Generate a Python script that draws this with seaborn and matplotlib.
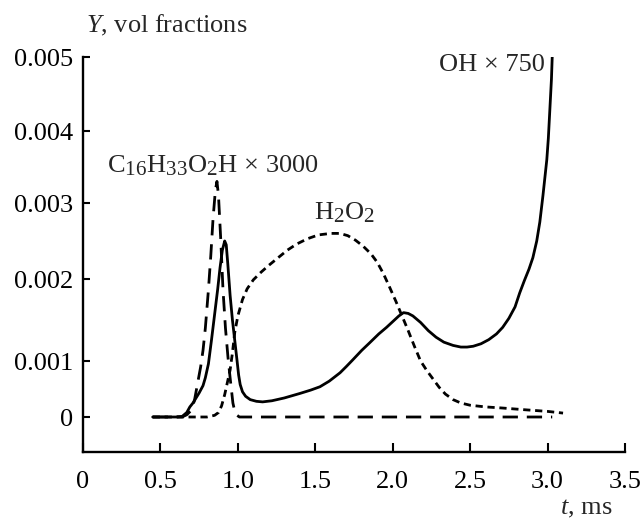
import numpy as np
import pandas as pd
import matplotlib
matplotlib.use("Agg")
import matplotlib.pyplot as plt
import seaborn as sns

# ---- data ----
t_oh = [0.45, 0.60, 0.64, 0.67, 0.69, 0.71, 0.73, 0.75, 0.775, 0.79, 0.81, 0.83,
        0.85, 0.87, 0.885, 0.90, 0.915, 0.925, 0.935, 0.95, 0.965, 0.98, 0.995,
        1.005, 1.015, 1.03, 1.05, 1.08, 1.12, 1.16, 1.22, 1.30, 1.40, 1.47, 1.53,
        1.59, 1.66, 1.70, 1.74, 1.80, 1.85, 1.91, 1.96, 2.00, 2.04, 2.07, 2.10,
        2.13, 2.18, 2.23, 2.28, 2.33, 2.39, 2.44, 2.48, 2.52, 2.57, 2.62, 2.67,
        2.71, 2.75, 2.79, 2.82, 2.85, 2.88, 2.905, 2.93, 2.95, 2.97, 2.985, 2.995,
        3.005, 3.015, 3.025, 3.03]
y_oh = [0.0, 0.0, 0.00001, 0.00008, 0.00018, 0.00025, 0.00034, 0.00043, 0.00056,
        0.0007, 0.00095, 0.00126, 0.00157, 0.00188, 0.00215, 0.00238, 0.0025,
        0.00245, 0.0022, 0.0018, 0.0015, 0.00125, 0.001, 0.00075, 0.00058, 0.00045,
        0.00037, 0.00031, 0.00028, 0.00027, 0.00029, 0.00034, 0.00042, 0.00048,
        0.00054, 0.00064, 0.00079, 0.0009, 0.00101, 0.00113, 0.00122, 0.00133,
        0.00141, 0.00148, 0.00155, 0.00159, 0.00158, 0.00155, 0.00147, 0.00137,
        0.00129, 0.00123, 0.00119, 0.00117, 0.00117, 0.00118, 0.00121, 0.00126,
        0.00133, 0.00141, 0.00152, 0.00166, 0.00183, 0.00198, 0.00213, 0.00228,
        0.0025, 0.00275, 0.0031, 0.0034, 0.0036, 0.0039, 0.0043, 0.0047, 0.005]

t_h2o2 = [0.45, 0.80, 0.85, 0.875, 0.895, 0.915, 0.935, 0.95, 0.965, 0.98, 1.00,
          1.03, 1.06, 1.10, 1.15, 1.20, 1.26, 1.32, 1.38, 1.45, 1.52, 1.60, 1.66,
          1.71, 1.76, 1.81, 1.86, 1.90, 1.94, 1.98, 2.02, 2.06, 2.10, 2.14, 2.18,
          2.22, 2.26, 2.30, 2.34, 2.39, 2.44, 2.50, 2.60, 2.71, 2.85, 3.00, 3.10]
y_h2o2 = [0.0, 0.0, 0.00003, 0.00008, 0.0002, 0.0004, 0.00065, 0.00084, 0.0011,
          0.00135, 0.00155, 0.00175, 0.00188, 0.00199, 0.00209, 0.00218, 0.00228,
          0.00238, 0.00246, 0.00253, 0.00258, 0.0026, 0.0026, 0.00257, 0.00251,
          0.00243, 0.00233, 0.00222, 0.00207, 0.0019, 0.00173, 0.00155, 0.00137,
          0.00118, 0.001, 0.00083, 0.00068, 0.00053, 0.00041, 0.00031, 0.00025,
          0.00021, 0.00018, 0.00016, 0.00013, 0.0001, 0.00007]

t_c16 = [0.45, 0.64, 0.67, 0.70, 0.72, 0.74, 0.76, 0.775, 0.79, 0.81, 0.825, 0.84,
         0.855, 0.865, 0.875, 0.89, 0.904, 0.92, 0.936, 0.95, 0.968, 0.98, 0.99,
         1.01, 3.03]
y_c16 = [0.0, 0.0, 0.00004, 0.00012, 0.0003, 0.0006, 0.0009, 0.00113, 0.0014,
         0.00187, 0.0023, 0.0028, 0.00318, 0.0033, 0.0031, 0.0025, 0.00187, 0.0014,
         0.00105, 0.0007, 0.00025, 0.0001, 0.00004, 0.0, 0.0]

x_ticks = [0, 0.5, 1.0, 1.5, 2.0, 2.5, 3.0, 3.5]
x_labels = ["0", "0.5", "1.0", "1.5", "2.0", "2.5", "3.0", "3.5"]
y_ticks = [0, 0.001, 0.002, 0.003, 0.004, 0.005]
y_labels = ["0", "0.001", "0.002", "0.003", "0.004", "0.005"]

# ---- style ----
sns.set_style("ticks")
plt.rcParams["font.family"] = ["Liberation Serif", "DejaVu Serif"]
plt.rcParams["mathtext.fontset"] = "custom"
plt.rcParams["mathtext.rm"] = "Liberation Serif"
plt.rcParams["mathtext.it"] = "Liberation Serif:italic"
try:
    import matplotlib._mathtext as _mt
    _mt.SHRINK_FACTOR = 0.8
except Exception:
    pass
FS = 19

fig = plt.figure(figsize=(6.44, 5.21), dpi=100)
ax = fig.add_axes([83 / 644, 69 / 521, (625 - 83) / 644, (452 - 57) / 521])

# piecewise-linear y scale reproducing the uneven tick spacing of the original
_sv = np.array([-0.001, 0.0, 0.001, 0.002, 0.003, 0.004, 0.005, 0.006])
_sp = np.array([-56.0, 0.0, 56.0, 138.0, 214.0, 286.0, 360.0, 434.0])
def _fwd(v):
    return np.interp(v, _sv, _sp)
def _inv(u):
    return np.interp(u, _sp, _sv)
ax.set_yscale("function", functions=(_fwd, _inv))

df_c16 = pd.DataFrame({"t": t_c16, "Y": y_c16})
df_oh = pd.DataFrame({"t": t_oh, "Y": y_oh})
df_h = pd.DataFrame({"t": t_h2o2, "Y": y_h2o2})

common = dict(color="black", lw=2.0, estimator=None,
              solid_joinstyle="round", dash_joinstyle="round")
sns.lineplot(data=df_c16, x="t", y="Y", ax=ax, linestyle=(0, (5.5, 3.2)), **common)
sns.lineplot(data=df_h, x="t", y="Y", ax=ax, linestyle=(0, (2.6, 1.7)), **common)
sns.lineplot(data=df_oh, x="t", y="Y", ax=ax, **common)

ax.set_xlim(0, 3.5)
ax.set_ylim(-0.000625, 0.005)
ax.set_xticks(x_ticks)
ax.set_xticklabels(x_labels)
ax.set_yticks(y_ticks)
ax.set_yticklabels(y_labels)
ax.minorticks_off()
ax.set_xlabel("")
ax.set_ylabel("")

for s in ["top", "right"]:
    ax.spines[s].set_visible(False)
for s in ["left", "bottom"]:
    ax.spines[s].set_linewidth(1.7)
    ax.spines[s].set_color("black")
ax.tick_params(axis="x", direction="in", length=6.5, width=1.5, pad=14,
               labelsize=FS, colors="black")
ax.tick_params(axis="y", direction="in", length=5, width=1.5, pad=7,
               labelsize=FS, colors="black")

ax.text(0.155, 0.00343, r"C$_{16}$H$_{33}$O$_{2}$H × 3000", fontsize=FS,
        ha="left", va="baseline")
ax.text(1.49, 0.00278, r"H$_{2}$O$_{2}$", fontsize=FS, ha="left", va="baseline")
ax.text(2.983, 0.00481, "OH × 750", fontsize=FS, ha="right", va="baseline")

fig.text(86 / 644, 1 - 25 / 521, r"$Y$, vol fractions", fontsize=FS,
         ha="left", va="center")
fig.text(612 / 644, 1 - 509 / 521, r"$t$, ms", fontsize=FS, ha="right",
         va="center")

fig.savefig("out.png", dpi=100)
